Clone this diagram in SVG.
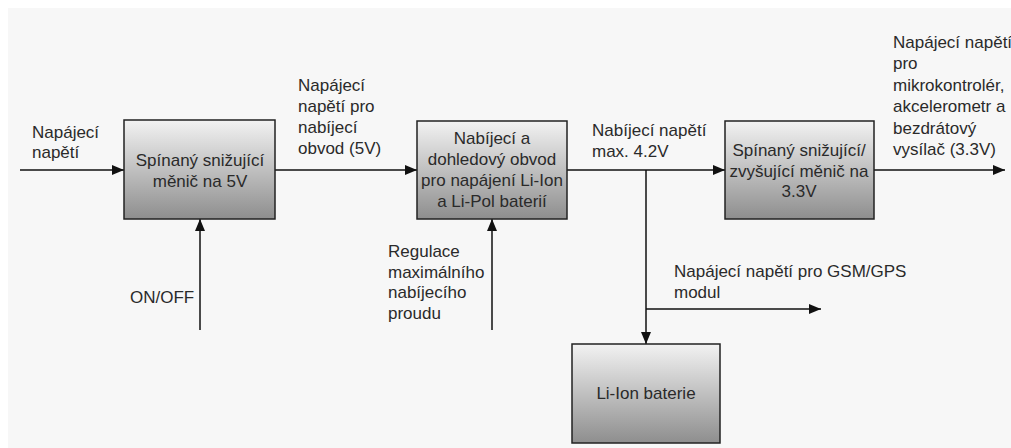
<svg xmlns="http://www.w3.org/2000/svg" width="1011" height="448" viewBox="0 0 1011 448">
<defs>
<linearGradient id="g" x1="0" y1="0" x2="0" y2="1">
<stop offset="0" stop-color="#f2f2f2"/>
<stop offset="1" stop-color="#8e8e8e"/>
</linearGradient>
<marker id="arr" viewBox="0 0 12 12" refX="12" refY="6" markerWidth="12" markerHeight="12" markerUnits="userSpaceOnUse" orient="auto">
<path d="M0,1 L12,6 L0,11 Z" fill="#111"/>
</marker>
<style>
.box{fill:url(#g);stroke:#222;stroke-width:1.5}
.t{font-family:"Liberation Sans",Arial,sans-serif;font-size:17px;fill:#2a2a2a}
.c{text-anchor:middle}
.ln{stroke:#111;stroke-width:1.5;fill:none}
.a{marker-end:url(#arr)}
</style>
</defs>
<rect x="0" y="0" width="1011" height="448" fill="#ffffff"/>
<rect x="8" y="8" width="1003" height="440" fill="#f7f7f7"/>

<g id="connectors">
<line class="ln a" x1="20" y1="170" x2="124" y2="170"/>
<line class="ln a" x1="275" y1="170" x2="417" y2="170"/>
<line class="ln a" x1="200" y1="330" x2="200" y2="219"/>
<line class="ln a" x1="492" y1="330" x2="492" y2="219"/>
<line class="ln a" x1="567" y1="170" x2="725" y2="170"/>
<line class="ln a" x1="874" y1="170" x2="1005" y2="170"/>
<line class="ln a" x1="646" y1="170" x2="646" y2="344"/>
<line class="ln a" x1="646" y1="309" x2="821" y2="309"/>
</g>

<g id="box1">
<rect class="box" x="124" y="120" width="151" height="99"/>
<text class="t c" x="200" y="166">Spínaný snižující</text>
<text class="t c" x="200" y="187">měnič na 5V</text>
</g>

<g id="box2">
<rect class="box" x="417" y="121" width="150" height="98"/>
<text class="t c" x="492" y="144">Nabíjecí a</text>
<text class="t c" x="492" y="165">dohledový obvod</text>
<text class="t c" x="492" y="186">pro napájení Li-Ion</text>
<text class="t c" x="492" y="207">a Li-Pol baterií</text>
</g>

<g id="box3">
<rect class="box" x="725" y="121" width="149" height="98"/>
<text class="t c" x="799" y="156">Spínaný snižující/</text>
<text class="t c" x="799" y="177">zvyšující měnič na</text>
<text class="t c" x="799" y="197">3.3V</text>
</g>

<g id="box4">
<rect class="box" x="572" y="344" width="148" height="99"/>
<text class="t c" x="646" y="399">Li-Ion baterie</text>
</g>

<g id="labels">
<text class="t" x="32" y="138">Napájecí</text>
<text class="t" x="32" y="158">napětí</text>

<text class="t" x="298" y="91">Napájecí</text>
<text class="t" x="298" y="112">napětí pro</text>
<text class="t" x="298" y="133">nabíjecí</text>
<text class="t" x="298" y="154">obvod (5V)</text>

<text class="t" x="130" y="303">ON/OFF</text>

<text class="t" x="388" y="257">Regulace</text>
<text class="t" x="388" y="278">maximálního</text>
<text class="t" x="388" y="298">nabíjecího</text>
<text class="t" x="388" y="319">proudu</text>

<text class="t" x="592" y="136">Nabíjecí napětí</text>
<text class="t" x="592" y="157">max. 4.2V</text>

<text class="t" x="674" y="277">Napájecí napětí pro GSM/GPS</text>
<text class="t" x="674" y="298">modul</text>

<text class="t" x="893" y="48">Napájecí napětí</text>
<text class="t" x="893" y="69">pro</text>
<text class="t" x="893" y="91">mikrokontrolér,</text>
<text class="t" x="893" y="112">akcelerometr a</text>
<text class="t" x="893" y="134">bezdrátový</text>
<text class="t" x="893" y="155">vysílač (3.3V)</text>
</g>
</svg>
